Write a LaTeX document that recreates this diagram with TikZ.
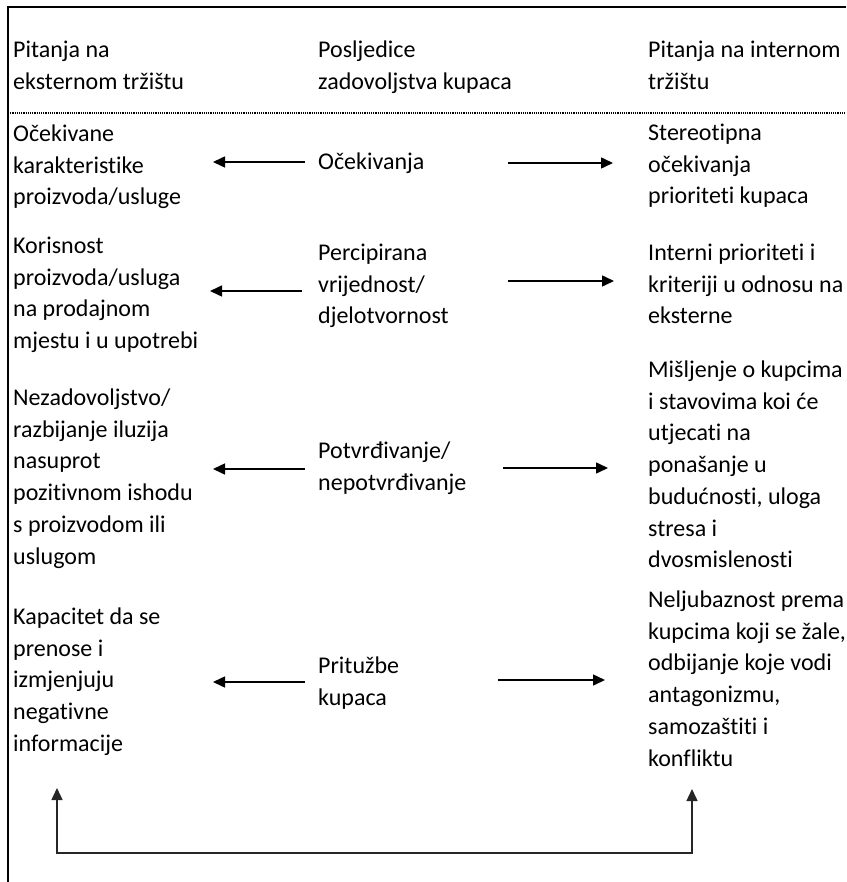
\documentclass[tikz,border=0pt]{standalone}
\usepackage{fontspec}
\setmainfont[Ligatures=NoCommon]{Carlito}
\usetikzlibrary{arrows.meta}

\begin{document}
\begin{tikzpicture}[x=1pt,y=-1pt,
    txt/.style={anchor=north west,inner sep=0pt,align=left,font=\fontsize{24}{31.75}\selectfont},
    tip/.tip={Triangle[length=12pt,width=11pt]},
    arr/.style={-tip,line width=1.5pt},
    frame/.style={line width=2.5pt}]
  \useasboundingbox (0,0) rectangle (846,882);
  \draw[frame] (8,882) -- (8,7) -- (846,7);
  \draw[densely dotted,line width=1.2pt] (8,113) -- (846,113);
  % headings
  \node[txt] (hdl) at (13,35) {\strut Pitanja na\\eksternom tržištu};
  \node[txt] (hdm) at (318,35) {\strut Posljedice\\zadovoljstva kupaca};
  \node[txt] (hdr) at (648,35) {\strut Pitanja na internom\\tržištu};
  % left column
  \node[txt] (l1) at (13,119) {\strut Očekivane\\karakteristike\\proizvoda/usluge};
  \node[txt] (l2) at (13,231) {\strut Korisnost\\proizvoda/usluga\\na prodajnom\\mjestu i u upotrebi};
  \node[txt] (l3) at (13,383) {\strut Nezadovoljstvo/\\razbijanje iluzija\\nasuprot\\pozitivnom ishodu\\s proizvodom ili\\uslugom};
  \node[txt] (l4) at (13,602) {\strut Kapacitet da se\\prenose i\\izmjenjuju\\negativne\\informacije};
  % middle column
  \node[txt] (m1) at (318,147) {\strut Očekivanja};
  \node[txt] (m2) at (318,238) {\strut Percipirana\\vrijednost/\\djelotvornost};
  \node[txt] (m3) at (318,436) {\strut Potvrđivanje/\\nepotvrđivanje};
  \node[txt] (m4) at (318,651) {\strut Pritužbe\\kupaca};
  % right column
  \node[txt] (r1) at (648,118) {\strut Stereotipna\\očekivanja\\prioriteti kupaca};
  \node[txt] (r2) at (648,238) {\strut Interni prioriteti i\\kriteriji u odnosu na\\eksterne};
  \node[txt] (r3) at (648,355) {\strut Mišljenje o kupcima\\i stavovima koi će\\utjecati na\\ponašanje u\\budućnosti, uloga\\stresa i\\dvosmislenosti};
  \node[txt] (r4) at (648,585) {\strut Neljubaznost prema\\kupcima koji se žale,\\odbijanje koje vodi\\antagonizmu,\\samozaštiti i\\konfliktu};
  % arrow ends
  \coordinate (a1w) at (213,162); \coordinate (a1m) at (305,162);
  \coordinate (b1m) at (508,163); \coordinate (b1e) at (613,163);
  \coordinate (a2w) at (210,291); \coordinate (a2m) at (302,291);
  \coordinate (b2m) at (508,281); \coordinate (b2e) at (614,281);
  \coordinate (a3w) at (213,469); \coordinate (a3m) at (305,469);
  \coordinate (b3m) at (503,468); \coordinate (b3e) at (608,468);
  \coordinate (a4w) at (213,682); \coordinate (a4m) at (305,682);
  \coordinate (b4m) at (498,680); \coordinate (b4e) at (605,680);
  \draw[arr] (a1m) -- (a1w);
  \draw[arr] (b1m) -- (b1e);
  \draw[arr] (a2m) -- (a2w);
  \draw[arr] (b2m) -- (b2e);
  \draw[arr] (a3m) -- (a3w);
  \draw[arr] (b3m) -- (b3e);
  \draw[arr] (a4m) -- (a4w);
  \draw[arr] (b4m) -- (b4e);
  % feedback loop
  \coordinate (fl) at (57,788); \coordinate (fbl) at (57,853);
  \coordinate (fr) at (692,789); \coordinate (fbr) at (692,853);
  \draw[arr,tip-tip,black!85] (fl) -- (fbl) -- (fbr) -- (fr);
\end{tikzpicture}
\end{document}
